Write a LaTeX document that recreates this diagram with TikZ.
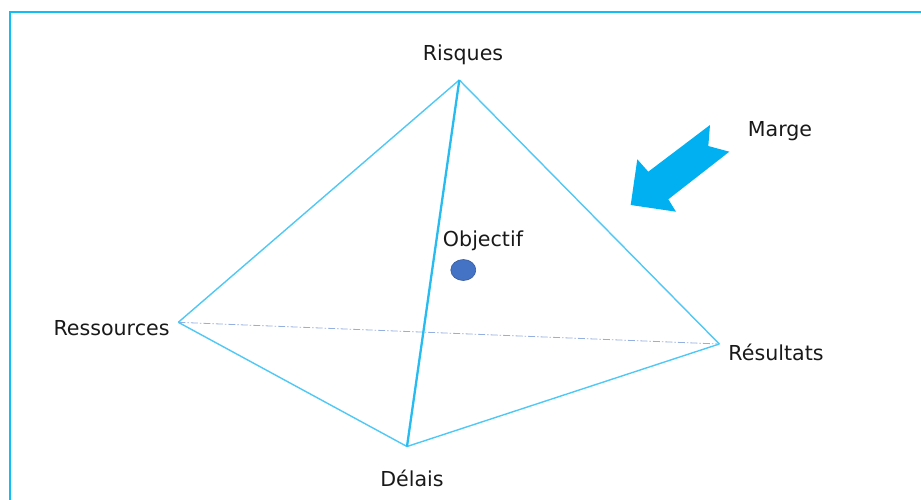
\documentclass[tikz,border=0pt]{standalone}
\usepackage{fontspec}
\setmainfont{DejaVu Sans}
\usetikzlibrary{shapes.geometric}
\definecolor{frameblue}{RGB}{16,190,245}
\definecolor{edgeblue}{RGB}{80,200,245}
\definecolor{arrowblue}{RGB}{0,176,240}
\definecolor{dashblue}{RGB}{150,175,225}
\definecolor{dotblue}{RGB}{68,114,196}
\definecolor{txt}{RGB}{25,25,25}
\begin{document}
\begin{tikzpicture}[x=1pt,y=-1pt,
  edge/.style={draw=edgeblue,line width=1.4pt},
  thickedge/.style={draw=arrowblue!85!white,line width=2.3pt},
  hidden/.style={draw=dashblue,line width=0.8pt,dash pattern=on 7pt off 2pt on 1.5pt off 2pt},
  lab/.style={text=txt,font=\fontsize{20.6}{24}\selectfont,inner sep=0pt}]
\useasboundingbox (0,0) rectangle (921,499);
\begin{scope}
\clip (0,0) rectangle (921,499);
\draw[frameblue,line width=2.4pt] (10,12) rectangle (940,520);
\end{scope}
% vertices
\coordinate (R) at (459.3,80);
\coordinate (Res) at (178.3,322.3);
\coordinate (Rst) at (719.3,344);
\coordinate (D) at (407,446.5);
% edges
\draw[hidden] (Res) -- (Rst);
\draw[edge] (R) -- (Res);
\draw[edge] (R) -- (Rst);
\draw[edge] (Res) -- (D);
\draw[edge] (D) -- (Rst);
\draw[thickedge] (R) -- (D);
% objective dot
\node[ellipse,draw=dotblue!80!black,fill=dotblue,line width=0.6pt,minimum width=25pt,minimum height=21pt,inner sep=0pt] (dot) at (463.3,270) {};
% labels
\node[lab] (lR) at (463,55) {Risques};
\node[lab] (lRes) at (111.5,328) {Ressources};
\node[lab] (lRst) at (776,352) {Résultats};
\node[lab] (lD) at (412,478) {Délais};
\node[lab] (lO) at (483,241) {Objectif};
\node[lab] (lM) at (780,131) {Marge};
% margin arrow
\fill[arrowblue] (710,125) -- (708.3,146) -- (729.3,151.7) -- (668.3,199.3) -- (676,211.7) -- (630.7,205) -- (637.3,159.3) -- (648.3,171.7) -- cycle;
\end{tikzpicture}
\end{document}
